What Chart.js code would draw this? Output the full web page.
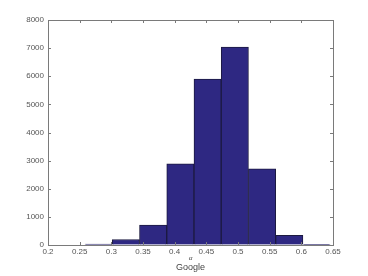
<!DOCTYPE html>
<html>
<head>
<meta charset="utf-8">
<script src="https://cdn.jsdelivr.net/npm/chart.js@4"></script>
<style>
  body { margin: 0; background: #fff; }
  #wrap { width: 368px; height: 276px; }
</style>
</head>
<body>
<div id="wrap"><canvas id="histChart" width="368" height="276"></canvas></div>
<script>
// histogram bins (centres) and counts
const binCenters = [0.28, 0.323, 0.366, 0.409, 0.452, 0.495, 0.538, 0.581, 0.624];
const binCounts = [35, 195, 710, 2885, 5895, 7035, 2705, 345, 25];
const xTicks = [0.2, 0.25, 0.3, 0.35, 0.4, 0.45, 0.5, 0.55, 0.6, 0.65];
const yTicks = [0, 1000, 2000, 3000, 4000, 5000, 6000, 7000, 8000];
const xName = 'Google';
const xSymbol = 'α';

document.addEventListener('DOMContentLoaded', function() {
    const ctx = document.getElementById('histChart').getContext('2d');

    // box around the plot and inward tick marks, matlab style
    const boxPlugin = {
        id: 'boxTicks',
        afterDraw(chart) {
            const c = chart.ctx;
            const a = chart.chartArea;
            const xs = chart.scales.x;
            const ys = chart.scales.y;
            c.save();
            c.strokeStyle = '#7a7a7a';
            c.lineWidth = 1;
            c.strokeRect(Math.round(a.left) + 0.5, Math.round(a.top) + 0.5,
                Math.round(a.right - a.left), Math.round(a.bottom - a.top));
            c.beginPath();
            xTicks.forEach(v => {
                const px = Math.round(xs.getPixelForValue(v)) + 0.5;
                c.moveTo(px, a.bottom); c.lineTo(px, a.bottom - 3);
                c.moveTo(px, a.top); c.lineTo(px, a.top + 3);
            });
            yTicks.forEach(v => {
                const py = Math.round(ys.getPixelForValue(v)) + 0.5;
                c.moveTo(a.left, py); c.lineTo(a.left + 3, py);
                c.moveTo(a.right, py); c.lineTo(a.right - 3, py);
            });
            c.stroke();

            // axis name
            const cx = (a.left + a.right) / 2;
            c.fillStyle = '#444';
            c.textAlign = 'center';
            c.textBaseline = 'middle';
            c.font = 'italic 7px "Liberation Serif", serif';
            c.fillText(xSymbol, cx, 258);
            c.font = '9px "Liberation Sans", Arial, sans-serif';
            c.fillText(xName, cx, 268);
            c.restore();
        }
    };

    new Chart(ctx, {
        type: 'bar',
        data: {
            datasets: [{
                data: binCenters.map((x, i) => ({ x: x, y: binCounts[i] })),
                backgroundColor: '#2e2882',
                borderColor: '#1c1a40',
                borderWidth: 1,
                barPercentage: 1,
                categoryPercentage: 1
            }]
        },
        options: {
            responsive: false,
            animation: false,
            layout: { padding: { left: 0, right: 35, top: 20, bottom: 0 } },
            plugins: {
                legend: { display: false },
                tooltip: { enabled: false }
            },
            scales: {
                x: {
                    type: 'linear',
                    min: 0.2,
                    max: 0.65,
                    offset: false,
                    afterFit: s => { s.height = 31; },
                    afterBuildTicks: s => { s.ticks = xTicks.map(v => ({ value: v })); },
                    grid: { display: true, drawOnChartArea: false, drawTicks: false },
                    border: { display: false },
                    ticks: {
                        padding: 2,
                        color: '#555',
                        font: { size: 8, family: '"Liberation Sans", Arial, sans-serif' },
                        maxRotation: 0,
                        autoSkip: false,
                        callback: v => String(parseFloat(v.toFixed(2)))
                    }
                },
                y: {
                    min: 0,
                    max: 8000,
                    afterFit: s => { s.width = 48; },
                    afterBuildTicks: s => { s.ticks = yTicks.map(v => ({ value: v })); },
                    grid: { display: true, drawOnChartArea: false, drawTicks: false },
                    border: { display: false },
                    ticks: {
                        padding: 4,
                        color: '#555',
                        font: { size: 8, family: '"Liberation Sans", Arial, sans-serif' },
                        autoSkip: false,
                        callback: v => String(v)
                    }
                }
            }
        },
        plugins: [boxPlugin]
    });
});
</script>
</body>
</html>
